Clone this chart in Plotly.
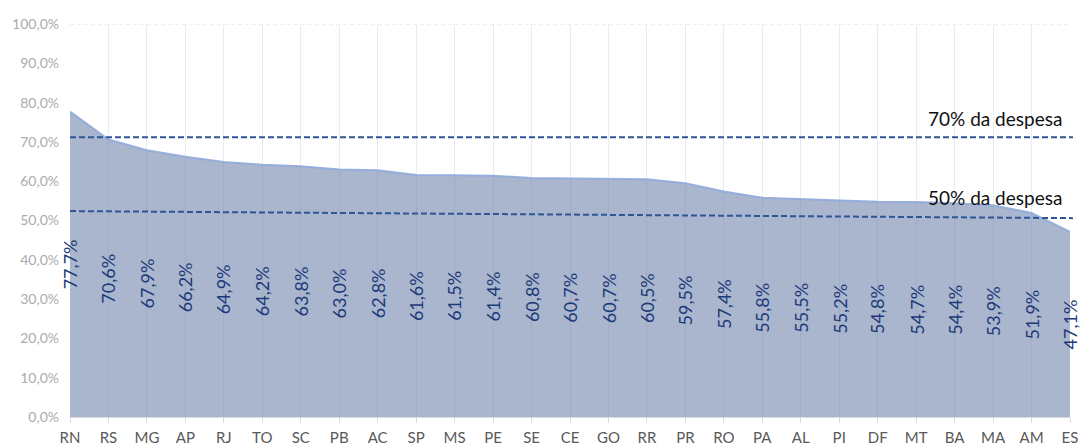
import plotly.graph_objects as go

states = ["RN", "RS", "MG", "AP", "RJ", "TO", "SC", "PB", "AC", "SP", "MS", "PE", "SE", "CE",
          "GO", "RR", "PR", "RO", "PA", "AL", "PI", "DF", "MT", "BA", "MA", "AM", "ES"]
values = [77.7, 70.6, 67.9, 66.2, 64.9, 64.2, 63.8, 63.0, 62.8, 61.6, 61.5, 61.4, 60.8, 60.7,
          60.7, 60.5, 59.5, 57.4, 55.8, 55.5, 55.2, 54.8, 54.7, 54.4, 53.9, 51.9, 47.1]

ref70_value = 71.2
ref50_start, ref50_end = 52.4, 50.6
ref70_label = "70% da despesa"
ref50_label = "50% da despesa"
y_ticks = [0, 10, 20, 30, 40, 50, 60, 70, 80, 90, 100]

FONT = "Lato"


def fmt(v):
    return f"{v:.1f}".replace(".", ",") + "%"


fig = go.Figure()
fig.add_trace(go.Scatter(
    x=states, y=values, mode="lines", fill="tozeroy",
    fillcolor="rgba(100,120,165,0.55)",
    line=dict(color="rgba(143,170,220,0.9)", width=2),
    hoverinfo="skip", showlegend=False,
))

for s, v in zip(states, values):
    fig.add_annotation(x=s, y=v / 2, text=fmt(v), textangle=-90, showarrow=False,
                       font=dict(family=FONT, size=18, color="#1B3A78"),
                       xanchor="center", yanchor="middle")

# top gridline (100%)
fig.add_shape(type="line", xref="paper", yref="y", x0=0, x1=1, y0=100, y1=100,
              line=dict(color="#E0E0E0", width=1.2, dash="4px,3px"), layer="below")
# reference lines
fig.add_shape(type="line", xref="paper", yref="y", x0=0, x1=1.003, y0=ref70_value, y1=ref70_value,
              line=dict(color="#2F5597", width=2, dash="6px,3px"), layer="above")
fig.add_shape(type="line", xref="paper", yref="y", x0=0, x1=1.003, y0=ref50_start, y1=ref50_end,
              line=dict(color="#2F5597", width=2, dash="6px,3px"), layer="above")

fig.add_annotation(xref="paper", yref="y", x=0.994, y=76.0, text=ref70_label, showarrow=False,
                   xanchor="right", yanchor="middle", font=dict(family=FONT, size=19, color="#111111"))
fig.add_annotation(xref="paper", yref="y", x=0.994, y=55.9, text=ref50_label, showarrow=False,
                   xanchor="right", yanchor="middle", font=dict(family=FONT, size=19, color="#111111"))

fig.update_layout(
    width=1082, height=447,
    margin=dict(l=70, r=12, t=24, b=30),
    paper_bgcolor="white", plot_bgcolor="white",
    showlegend=False,
)
fig.update_xaxes(
    type="category", range=[0, len(states) - 1], automargin=False,
    showgrid=True, gridcolor="#EAECF3", gridwidth=1.2,
    showline=True, linecolor="#D9D9D9", linewidth=1,
    ticks="outside", ticklen=5, tickcolor="#D9D9D9",
    tickfont=dict(family=FONT, size=15, color="#595959"),
    ticklabelstandoff=2,
    zeroline=False,
)
fig.update_yaxes(
    range=[0, 100], tickvals=y_ticks, ticktext=[fmt(t) for t in y_ticks],
    automargin=False,
    showgrid=False, zeroline=False, showline=False,
    tickfont=dict(family=FONT, size=14, color="#ABABAB"),
    ticklabelstandoff=10,
)

fig.write_html("out.html", config={"displayModeBar": False},
               post_script="document.body.style.margin='0';document.body.style.overflow='hidden';")
